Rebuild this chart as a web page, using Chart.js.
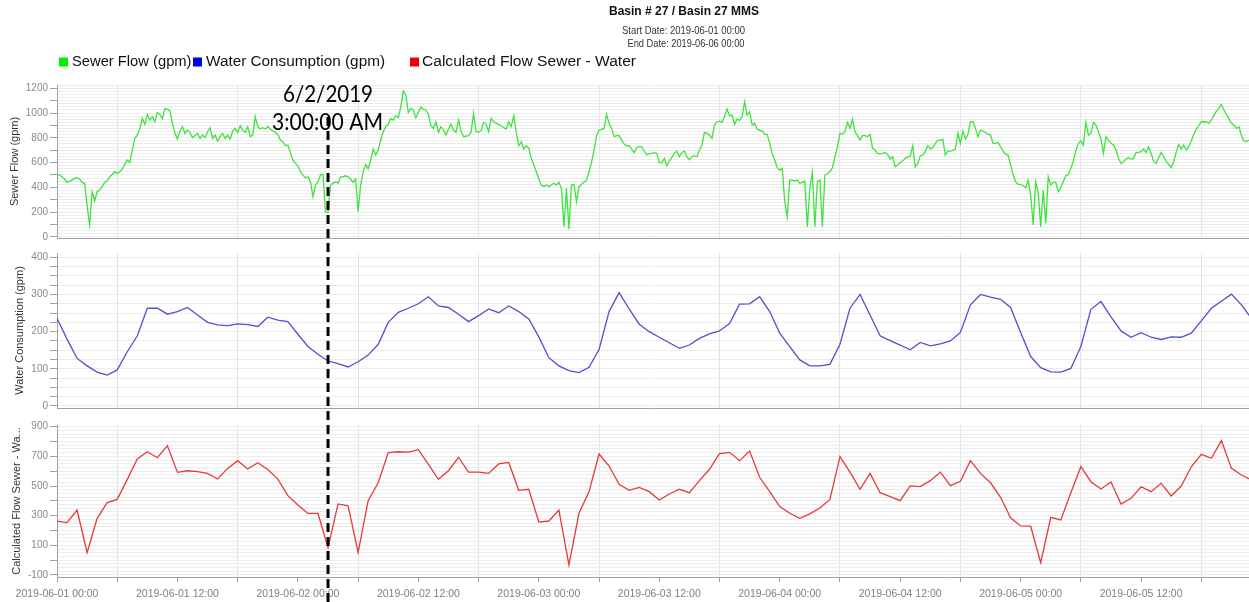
<!DOCTYPE html>
<html>
<head>
<meta charset="utf-8">
<title>Basin # 27 / Basin 27 MMS</title>
<script src="https://cdn.jsdelivr.net/npm/chart.js@4.4.1/dist/chart.umd.min.js"></script>
<style>
  html, body { margin: 0; padding: 0; background: #fff; }
  #wrap { position: relative; width: 1249px; height: 602px; overflow: hidden; }
  #wrap canvas { position: absolute; left: 0; top: 0; }
</style>
</head>
<body>
<div id="wrap">
  <canvas id="sewerChart" width="1249" height="602"></canvas>
  <canvas id="waterChart" width="1249" height="602"></canvas>
  <canvas id="calcChart" width="1249" height="602"></canvas>
</div>
<script>
// Basin 27 flow meter, 2019-06-01 00:00 -> 2019-06-06 00:00
const chartTitle = 'Basin # 27 / Basin 27 MMS';
const startLabel = 'Start Date: 2019-06-01 00:00';
const endLabel = 'End Date: 2019-06-06 00:00';
const dayLabels = ['2019-06-01', '2019-06-02', '2019-06-03', '2019-06-04', '2019-06-05', '2019-06-06'];

// Sewer flow (gpm), 15 minute readings from 06-01 00:00
const sewerStep = 0.25;
const sewerFlow = [
  507, 499, 485, 467, 440, 450, 458, 472,
  477, 467, 440, 432, 250, 95, 364, 289,
  364, 378, 405, 440, 450, 485, 504, 526,
  512, 526, 547, 585, 620, 601, 701, 795,
  822, 871, 957, 909, 989, 944, 971, 930,
  1006, 989, 952, 1038, 1030, 1016, 917, 836,
  790, 855, 890, 836, 863, 844, 801, 817,
  836, 795, 822, 801, 849, 882, 795, 822,
  774, 809, 836, 795, 822, 790, 855, 876,
  844, 898, 860, 844, 890, 809, 822, 971,
  890, 871, 882, 871, 890, 871, 855, 844,
  828, 782, 768, 736, 742, 682, 620, 593,
  574, 526, 499, 477, 485, 445, 324, 418,
  445, 499, 504, 197, 197, 418, 432, 445,
  432, 485, 485, 493, 485, 467, 440, 467,
  202, 418, 526, 585, 547, 620, 709, 661,
  701, 782, 849, 890, 909, 957, 944, 979,
  963, 1051, 1178, 1146, 1006, 1038, 1025, 962,
  1006, 1051, 1030, 1025, 989, 898, 876, 930,
  844, 890, 863, 822, 871, 909, 863, 844,
  944, 855, 809, 814, 817, 844, 998, 849,
  844, 860, 925, 909, 849, 957, 930, 917,
  909, 898, 882, 871, 930, 890, 979, 849,
  736, 768, 709, 736, 715, 634, 580, 526,
  467, 418, 405, 418, 405, 418, 432, 418,
  440, 391, 81, 391, 62, 418, 424, 283,
  405, 424, 440, 456, 526, 601, 701, 817,
  863, 868, 876, 989, 917, 876, 809, 817,
  817, 782, 750, 736, 736, 709, 680, 720,
  728, 728, 693, 661, 671, 674, 680, 674,
  601, 598, 634, 574, 612, 639, 674, 693,
  647, 682, 693, 647, 623, 647, 655, 647,
  701, 742, 844, 836, 822, 795, 903, 930,
  935, 925, 971, 1033, 979, 984, 909, 952,
  941, 971, 1092, 984, 1011, 903, 917, 871,
  860, 855, 828, 828, 755, 674, 620, 558,
  539, 553, 283, 162, 458, 458, 450, 458,
  432, 440, 450, 81, 391, 521, 81, 445,
  458, 81, 499, 512, 526, 558, 647, 728,
  836, 828, 849, 925, 876, 952, 849, 817,
  782, 817, 817, 809, 828, 715, 701, 674,
  669, 674, 682, 666, 628, 647, 566, 580,
  601, 612, 634, 644, 653, 736, 566, 593,
  655, 661, 688, 736, 709, 720, 755, 782,
  782, 787, 661, 693, 693, 698, 709, 836,
  755, 855, 790, 828, 930, 930, 876, 809,
  863, 855, 841, 830, 822, 755, 755, 763,
  728, 693, 666, 661, 580, 499, 445, 424,
  424, 413, 397, 458, 337, 95, 445, 364,
  81, 378, 108, 485, 418, 440, 440, 364,
  397, 445, 493, 504, 553, 612, 693, 755,
  774, 742, 925, 822, 836, 925, 903, 849,
  795, 674, 809, 782, 755, 742, 701, 634,
  593, 607, 628, 639, 628, 634, 682, 682,
  688, 709, 682, 728, 674, 612, 593, 639,
  682, 647, 612, 585, 558, 607, 682, 747,
  709, 742, 701, 728, 774, 828, 871, 898,
  930, 930, 930, 917, 944, 979, 1016, 1038,
  1070, 1025, 989, 957, 917, 903, 876, 890,
  817, 774, 768, 782, 768
];

// Water consumption (gpm), hourly
const waterStep = 1;
const waterConsumption = [
  236, 180, 128, 108, 91, 83, 97, 146, 189, 263, 263, 247,
  254, 265, 245, 225, 218, 216, 221, 219, 214, 239, 231, 227,
  193, 160, 139, 121, 114, 105, 119, 137, 166, 225, 252, 263,
  275, 294, 269, 265, 247, 227, 243, 261, 251, 269, 254, 234,
  186, 130, 108, 95, 90, 104, 152, 254, 305, 261, 220, 200,
  185, 170, 155, 164, 182, 194, 202, 222, 274, 275, 294, 254,
  196, 160, 124, 108, 108, 112, 166, 263, 300, 245, 189, 176,
  164, 151, 171, 162, 167, 175, 198, 272, 300, 293, 287, 265,
  198, 133, 103, 92, 91, 101, 160, 260, 281, 240, 202, 185,
  197, 185, 179, 186, 185, 196, 229, 263, 282, 301, 272, 235
];

// Calculated flow, sewer - water (gpm), hourly
const calcStep = 1;
const calculatedFlow = [
  264, 253, 338, 50, 282, 388, 410, 545, 682, 731, 691, 772,
  592, 603, 597, 585, 547, 619, 671, 615, 657, 612, 547, 435,
  372, 315, 315, 84, 379, 367, 52, 401, 522, 725, 731, 729,
  745, 646, 545, 603, 694, 594, 594, 585, 649, 659, 471, 478,
  257, 264, 338, -32, 316, 462, 716, 635, 512, 471, 491, 462,
  406, 446, 478, 455, 536, 613, 718, 727, 671, 736, 559, 462,
  361, 316, 282, 312, 352, 410, 698, 594, 478, 585, 455, 428,
  401, 501, 496, 536, 594, 503, 532, 671, 585, 522, 424, 286,
  231, 229, -17, 289, 271, 455, 630, 529, 480, 527, 379, 417,
  495, 462, 518, 433, 500, 630, 714, 687, 806, 619, 574, 540
];

const seriesNames = ['Sewer Flow (gpm)', 'Water Consumption (gpm)', 'Calculated Flow Sewer - Water'];
const seriesColors = ['#3ee43e', '#5050d2', '#e63a3a'];
const legendColors = ['#00f000', '#0000f0', '#f00000'];

// marked reading: 2019-06-02 03:00
const markerHour = 27;
const markerText = ['6/2/2019', '3:00:00 AM'];

const viewHours = 118.75;
const FONT = "'Liberation Sans', Arial, sans-serif";

function toPoints(values, step) {
  return values.map((v, i) => ({ x: i * step, y: v }));
}

function hourLabel(h) {
  const day = dayLabels[Math.floor(h / 24)];
  const hh = String(h % 24).padStart(2, '0');
  return day + ' ' + hh + ':00';
}

function onStep(value, base, step) {
  const r = Math.abs((value - base) % step);
  return r < 1e-6 || Math.abs(r - step) < 1e-6;
}

// ticks at every multiple of step inside [min, max]
function stepTicks(min, max, step) {
  const out = [];
  for (let v = Math.ceil(min / step) * step; v <= max + 1e-9; v += step) out.push({ value: v });
  return out;
}

// text squeezed/stretched to a fixed span
function fitText(ctx, text, left, right, midY, font, color) {
  ctx.save();
  ctx.font = font;
  ctx.fillStyle = color;
  ctx.textAlign = 'left';
  ctx.textBaseline = 'middle';
  const w = ctx.measureText(text).width;
  ctx.translate(left, midY);
  ctx.scale((right - left) / w, 1);
  ctx.fillText(text, 0, 0);
  ctx.restore();
}

function panelOptions(cfg) {
  return {
    responsive: false,
    animation: false,
    devicePixelRatio: 1,
    events: [],
    layout: { padding: { top: cfg.top, bottom: cfg.bottom, left: 0, right: 0 } },
    plugins: { legend: { display: false }, tooltip: { enabled: false } },
    elements: { point: { radius: 0 }, line: { borderWidth: 1.3, tension: 0 } },
    scales: {
      x: {
        type: 'linear',
        min: 0,
        max: viewHours,
        afterBuildTicks: s => { s.ticks = stepTicks(0, viewHours, 6); },
        ticks: {
          autoSkip: false,
          maxRotation: 0,
          display: cfg.showX,
          padding: 6,
          color: '#808080',
          font: { family: FONT, size: 10.5 },
          callback: v => (v % 12 === 0 ? hourLabel(v) : '')
        },
        grid: {
          color: c => (c.tick && c.tick.value % 12 === 6 ? '#e2e2e2' : 'rgba(0,0,0,0)'),
          lineWidth: 1,
          drawTicks: cfg.showX,
          tickLength: 5,
          tickColor: '#a0a0a0'
        },
        border: { display: true, color: '#a0a0a0', width: 1 },
        afterFit: s => { s.height = cfg.showX ? 25 : 0; }
      },
      y: {
        min: cfg.min,
        max: cfg.max,
        afterBuildTicks: s => { s.ticks = stepTicks(cfg.min, cfg.max, 25); },
        ticks: {
          autoSkip: false,
          padding: 2,
          color: '#8a8a8a',
          font: { family: FONT, size: 10 },
          callback: v => (onStep(v, cfg.labelBase, cfg.labelEvery) ? v : '')
        },
        grid: {
          color: '#ececec',
          lineWidth: 1,
          tickLength: 7,
          tickColor: c => (c.tick && onStep(c.tick.value, 0, cfg.markEvery) ? '#a0a0a0' : 'rgba(0,0,0,0)')
        },
        border: { display: true, color: '#a0a0a0', width: 1 },
        title: {
          display: true,
          text: cfg.title,
          color: '#333',
          font: { family: FONT, size: 11 },
          padding: { top: cfg.titlePad, bottom: 0 }
        },
        afterFit: s => { s.width = 57; }
      }
    }
  };
}

const headerPlugin = {
  id: 'header',
  afterDraw(chart) {
    const ctx = chart.ctx;
    fitText(ctx, chartTitle, 609, 759, 11.5, 'bold 12px ' + FONT, '#111');
    fitText(ctx, startLabel, 622, 745, 31, '10px ' + FONT, '#333');
    fitText(ctx, endLabel, 627.5, 744.5, 44, '10px ' + FONT, '#333');
    const items = [
      { box: 59, from: 72, to: 191.5 },
      { box: 193, from: 206, to: 385 },
      { box: 410, from: 422, to: 636 }
    ];
    items.forEach((it, i) => {
      ctx.fillStyle = legendColors[i];
      ctx.fillRect(it.box, 57.5, 9, 9);
      fitText(ctx, seriesNames[i], it.from, it.to, 62, '15.5px ' + FONT, '#111');
    });
  }
};

const markerPlugin = {
  id: 'marker',
  afterDraw(chart) {
    const ctx = chart.ctx;
    const x = chart.scales.x.getPixelForValue(markerHour);
    fitText(ctx, markerText[0], x - 45, x + 45, 95, '23px Lato, ' + FONT, '#000');
    fitText(ctx, markerText[1], x - 56, x + 55, 123, '23px Lato, ' + FONT, '#000');
    ctx.save();
    ctx.strokeStyle = '#000';
    ctx.lineWidth = 3;
    ctx.setLineDash([9, 5]);
    ctx.beginPath();
    ctx.moveTo(x, 117);
    ctx.lineTo(x, 602);
    ctx.stroke();
    ctx.restore();
  }
};

new Chart(document.getElementById('sewerChart'), {
  type: 'line',
  data: {
    datasets: [{
      label: seriesNames[0],
      data: toPoints(sewerFlow, sewerStep),
      borderColor: seriesColors[0],
      fill: false
    }]
  },
  options: panelOptions({
    top: 85, bottom: 364, showX: false,
    min: -10, max: 1227, labelBase: 0, labelEvery: 200, markEvery: 100,
    title: 'Sewer Flow (gpm)', titlePad: 8
  }),
  plugins: [headerPlugin]
});

new Chart(document.getElementById('waterChart'), {
  type: 'line',
  data: {
    datasets: [{
      label: seriesNames[1],
      data: toPoints(waterConsumption, waterStep),
      borderColor: seriesColors[1],
      fill: false
    }]
  },
  options: panelOptions({
    top: 253, bottom: 194, showX: false,
    min: -5.4, max: 411.6, labelBase: 0, labelEvery: 100, markEvery: 25,
    title: 'Water Consumption (gpm)', titlePad: 13
  })
});

new Chart(document.getElementById('calcChart'), {
  type: 'line',
  data: {
    datasets: [{
      label: seriesNames[2],
      data: toPoints(calculatedFlow, calcStep),
      borderColor: seriesColors[2],
      fill: false
    }]
  },
  options: panelOptions({
    top: 425, bottom: 0, showX: true,
    min: -113.5, max: 911.5, labelBase: -100, labelEvery: 200, markEvery: 100,
    title: 'Calculated Flow Sewer - Wa...', titlePad: 10
  }),
  plugins: [markerPlugin]
});
</script>
</body>
</html>
